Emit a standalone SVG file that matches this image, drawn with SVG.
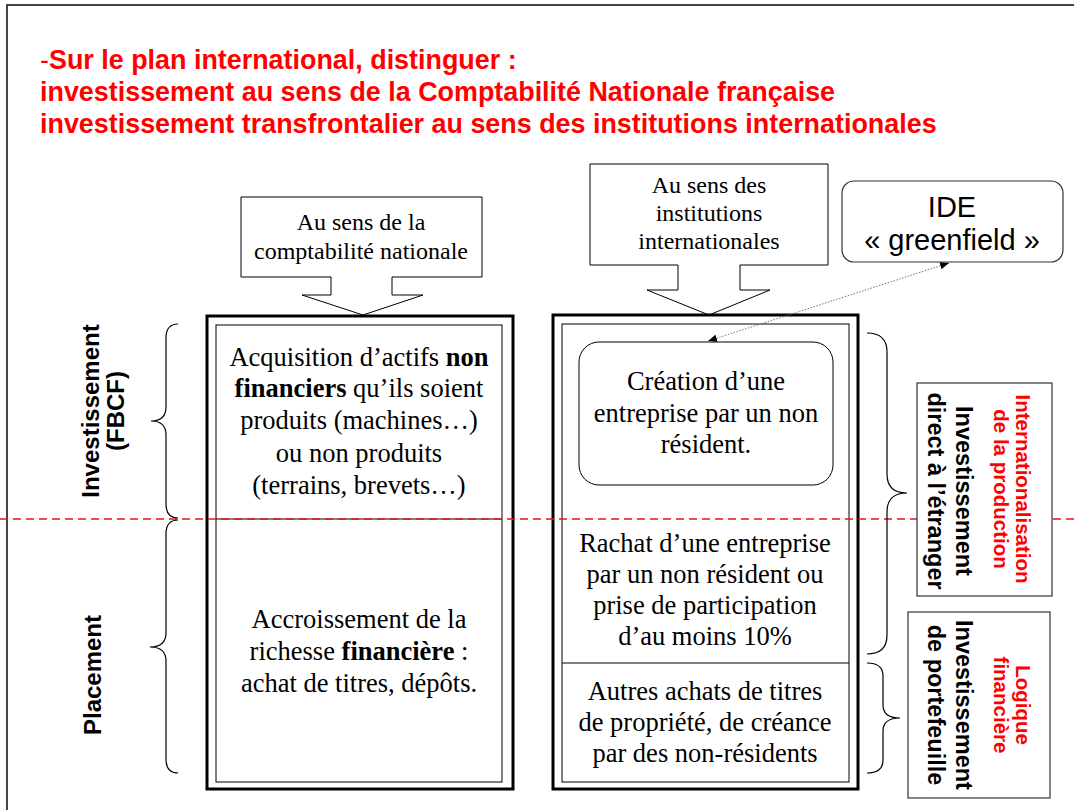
<svg xmlns="http://www.w3.org/2000/svg" width="1074" height="810" viewBox="0 0 1074 810">
<defs>
<style>
.sans{font-family:"Liberation Sans",Arial,sans-serif}
.serif{font-family:"Liberation Serif","Times New Roman",serif}
.title{font-size:26.9px;font-weight:bold;fill:#FF0000}
.body{font-size:26.5px;fill:#000;text-anchor:middle}
.call{font-size:24px;fill:#000;text-anchor:middle}
.lab{font-size:24px;font-weight:bold;fill:#000;text-anchor:middle}
.rlab{font-size:20.5px;font-weight:bold;fill:#FF0000;text-anchor:middle}
.blab{font-size:23.5px;font-weight:bold;fill:#000;text-anchor:middle}
.outer{fill:none;stroke:#000;stroke-width:3}
.inner{fill:none;stroke:#000;stroke-width:1}
.callout{fill:#fff;stroke:#000;stroke-width:1}
.brace{fill:none;stroke:#000;stroke-width:1.2}
.tag{fill:#fff;stroke:#333;stroke-width:1.2}
</style>
<marker id="ah" viewBox="0 0 10 10" refX="10" refY="5" markerWidth="9" markerHeight="9" orient="auto-start-reverse" markerUnits="userSpaceOnUse">
<path d="M0,1 L10,5 L0,9 Z" fill="#000"/>
</marker>
</defs>
<rect width="1074" height="810" fill="#fff"/>
<!-- frame -->
<path d="M7,810 L7,5 L1074,5" fill="none" stroke="#444" stroke-width="2"/>

<!-- title -->
<g id="title" class="sans title">
<text x="40" y="69"><tspan font-weight="normal">-</tspan>Sur le plan international, distinguer :</text>
<text x="40" y="101">investissement au sens de la Comptabilité Nationale française</text>
<text x="40" y="133">investissement transfrontalier au sens des institutions internationales</text>
</g>

<!-- left callout -->
<g id="callout-cn">
<path class="callout" d="M241,197 L482,197 L482,277 L392,277 L392,295 L423,295 L363,315 L302,295 L331,295 L331,277 L241,277 Z"/>
<text class="serif call" x="361" y="230">Au sens de la</text>
<text class="serif call" x="361" y="259">comptabilité nationale</text>
</g>

<!-- right callout -->
<g id="callout-ii">
<path class="callout" d="M590,164 L828,164 L828,265 L740,265 L740,290 L770,290 L709,315 L647,290 L678,290 L678,265 L590,265 Z"/>
<text class="serif call" x="709" y="193">Au sens des</text>
<text class="serif call" x="709" y="221">institutions</text>
<text class="serif call" x="709" y="249">internationales</text>
</g>

<!-- IDE greenfield -->
<g id="ide">
<rect class="tag" x="842" y="181" width="221" height="81" rx="12"/>
<text class="sans" x="952" y="217" font-size="29" text-anchor="middle">IDE</text>
<text class="sans" x="952" y="250" font-size="29" text-anchor="middle">« greenfield »</text>
</g>

<!-- left column -->
<g id="col-cn">
<rect class="outer" x="207" y="316" width="306" height="473"/>
<rect class="inner" x="216" y="325" width="286" height="457"/>
<line x1="216" y1="519" x2="502" y2="519" stroke="#000" stroke-width="1"/>
</g>
<g id="cn-fbcf" class="serif body">
<text x="359" y="366">Acquisition d’actifs <tspan font-weight="bold">non</tspan></text>
<text x="359" y="397"><tspan font-weight="bold">financiers</tspan> qu’ils soient</text>
<text x="359" y="429">produits (machines…)</text>
<text x="359" y="462">ou non produits</text>
<text x="359" y="494">(terrains, brevets…)</text>
</g>
<g id="cn-placement" class="serif body">
<text x="359" y="628">Accroissement de la</text>
<text x="359" y="660">richesse <tspan font-weight="bold">financière</tspan> :</text>
<text x="359" y="692">achat de titres, dépôts.</text>
</g>

<!-- right column -->
<g id="col-ii">
<rect class="outer" x="553" y="315" width="305" height="474"/>
<rect class="inner" x="562" y="324" width="287" height="458"/>
<line x1="562" y1="663" x2="849" y2="663" stroke="#000" stroke-width="1"/>
</g>
<g id="ii-creation">
<rect x="579" y="342" width="254" height="143" rx="20" fill="#fff" stroke="#000" stroke-width="1"/>
<text class="serif body" x="706" y="390">Création d’une</text>
<text class="serif body" x="706" y="422">entreprise par un non</text>
<text class="serif body" x="706" y="453">résident.</text>
</g>
<g id="ii-rachat" class="serif body">
<text x="705" y="552">Rachat d’une entreprise</text>
<text x="705" y="583">par un non résident ou</text>
<text x="705" y="614">prise de participation</text>
<text x="705" y="645">d’au moins 10%</text>
</g>
<g id="ii-autres" class="serif body">
<text x="705" y="700">Autres achats de titres</text>
<text x="705" y="731">de propriété, de créance</text>
<text x="705" y="762">par des non-résidents</text>
</g>

<!-- red dashed separator -->
<line x1="0" y1="519" x2="1074" y2="519" stroke="#E8141C" stroke-width="1.5" stroke-dasharray="8,5"/>

<!-- braces -->
<g id="braces" class="brace">
<path d="M178,324 Q166,324 166,338 L166,407 Q166,421 151,421 Q166,421 166,435 L166,504 Q166,518 178,518"/>
<path d="M178,520 Q166,520 166,534 L166,633 Q166,647 150,647 Q166,647 166,661 L166,759 Q166,773 178,773"/>
<path d="M867,333 Q887,333 887,352 L887,474 Q887,493 907,493 Q887,493 887,512 L887,635 Q887,654 867,654"/>
<path d="M867,663 Q883,663 883,676 L883,705 Q883,718 900,718 Q883,718 883,731 L883,760 Q883,773 867,773"/>
</g>

<!-- left labels -->
<g id="lab-fbcf" class="sans lab">
<text transform="translate(99,411) rotate(-90)">Investissement</text>
<text transform="translate(124,411) rotate(-90)">(FBCF)</text>
</g>
<g id="lab-placement" class="sans lab">
<text transform="translate(101,675) rotate(-90)">Placement</text>
</g>

<!-- right labels -->
<g id="lab-ide">
<rect class="tag" x="917" y="383" width="135" height="213"/>
<text class="sans rlab" transform="translate(1016,489) rotate(90)">Internationalisation</text>
<text class="sans rlab" transform="translate(994,489) rotate(90)">de la production</text>
<text class="sans blab" transform="translate(956,491) rotate(90)">Investissement</text>
<text class="sans blab" transform="translate(928,491) rotate(90)">direct à l’étranger</text>
</g>
<g id="lab-portefeuille">
<rect class="tag" x="908" y="612" width="142" height="186"/>
<text class="sans rlab" transform="translate(1016,705) rotate(90)">Logique</text>
<text class="sans rlab" transform="translate(994,705) rotate(90)">financière</text>
<text class="sans blab" transform="translate(956,705) rotate(90)">Investissement</text>
<text class="sans blab" transform="translate(928,705) rotate(90)">de portefeuille</text>
</g>

<!-- connectors -->
<g id="connectors">
<line x1="949" y1="263" x2="708" y2="341" stroke="#777" stroke-width="1" stroke-dasharray="1.5,1.5" marker-start="url(#ah)" marker-end="url(#ah)"/>
</g>
</svg>
